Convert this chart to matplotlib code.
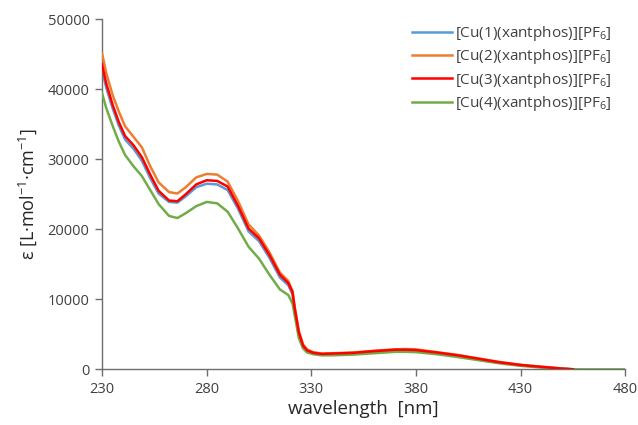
import numpy as np
import matplotlib
matplotlib.use("Agg")
import matplotlib.pyplot as plt

plt.rcParams['font.family'] = ['Open Sans', 'DejaVu Sans']
plt.rcParams['mathtext.fontset'] = 'custom'
plt.rcParams['mathtext.rm'] = 'Open Sans'
plt.rcParams['mathtext.it'] = 'Open Sans'


# DATA

wavelength = [230, 232, 235, 238, 241, 245, 249, 253, 257, 262, 266, 270, 275,
              280, 285, 290, 295, 300, 305, 310, 315, 319, 321, 322, 324, 326,
              328, 331, 335, 340, 350, 360, 370, 375, 380, 390, 400, 410, 420,
              430, 440, 450, 455, 460, 470, 480]

nan = np.nan

eps_cu1 = [42700, 40200, 37300, 34800, 32800, 31500, 29800, 27300, 25100, 23900,
           23800, 24700, 26000, 26500, 26400, 25600, 22900, 19700, 18300, 15900,
           13100, 12000, 10700, 8500, 5100, 3300, 2600, 2300, 2150, 2200, 2300,
           2500, 2700, 2700, 2650, 2300, 1900, 1400, 950, 580, 300, 60, 0,
           nan, nan, nan]

eps_cu2 = [45100, 42300, 39200, 36800, 34700, 33200, 31700, 29000, 26700, 25300,
           25100, 26000, 27400, 27900, 27800, 26800, 24000, 20700, 19100, 16700,
           13800, 12600, 11200, 9000, 5500, 3600, 2800, 2450, 2250, 2300, 2400,
           2650, 2850, 2900, 2850, 2450, 2050, 1550, 1050, 650, 380, 120, 0,
           nan, nan, nan]

eps_cu3 = [43500, 40800, 37800, 35300, 33300, 32000, 30300, 27800, 25500, 24100,
           24000, 25000, 26400, 27000, 26900, 26100, 23300, 20100, 18700, 16300,
           13500, 12300, 11000, 8800, 5300, 3400, 2700, 2350, 2200, 2250, 2350,
           2600, 2800, 2800, 2750, 2400, 2000, 1500, 1000, 620, 350, 100, 0,
           nan, nan, nan]

eps_cu4 = [39400, 37300, 34800, 32500, 30600, 29000, 27600, 25600, 23600, 21900,
           21600, 22300, 23300, 23900, 23700, 22500, 20100, 17500, 15800, 13500,
           11400, 10600, 9400, 7800, 4500, 3000, 2400, 2150, 2000, 2000, 2100,
           2300, 2500, 2500, 2450, 2150, 1750, 1300, 850, 500, 250, 80, 20,
           0, 0, 0]

labels = [r"[Cu(1)(xantphos)][PF$_{6}$]",
          r"[Cu(2)(xantphos)][PF$_{6}$]",
          r"[Cu(3)(xantphos)][PF$_{6}$]",
          r"[Cu(4)(xantphos)][PF$_{6}$]"]

colors = ["#5B9BD5", "#ED7D31", "#FF0000", "#70AD47"]

x_ticks = [230, 280, 330, 380, 430, 480]
y_ticks = [0, 10000, 20000, 30000, 40000, 50000]


# PLOT

fig = plt.figure(figsize=(6.38, 4.25), dpi=100)
ax = fig.add_axes([0.16, 0.131, 0.82, 0.824])

series = [eps_cu1, eps_cu2, eps_cu3, eps_cu4]
zorders = [2, 3, 5, 4]
for vals, lab, col, z in zip(series, labels, colors, zorders):
    ax.plot(wavelength, vals, color=col, linewidth=1.8, label=lab, zorder=z,
            solid_joinstyle="round")

ax.set_xlim(230, 480)
ax.set_ylim(0, 50000)
ax.set_xticks(x_ticks)
ax.set_yticks(y_ticks)

axis_gray = "#6e6e6e"
for side in ["top", "right"]:
    ax.spines[side].set_visible(False)
for side in ["left", "bottom"]:
    ax.spines[side].set_color(axis_gray)
    ax.spines[side].set_linewidth(1.0)

ax.tick_params(axis="both", direction="out", length=5, width=1.0,
               color=axis_gray, labelcolor="#404040", labelsize=10.5, pad=4)

ax.set_xlabel("wavelength  [nm]", fontsize=13.5, color="#262626", labelpad=2)
ax.set_ylabel(r"ε [L·mol$^{\mathrm{-1}}$·cm$^{\mathrm{-1}}$]", fontsize=13,
              color="#262626", labelpad=6)

ax.legend(loc="upper right", bbox_to_anchor=(1.0, 1.025), frameon=False,
          fontsize=11, handlelength=2.6, handletextpad=0.2, labelspacing=0.28,
          labelcolor="#404040")

plt.savefig("out.png", dpi=100)
